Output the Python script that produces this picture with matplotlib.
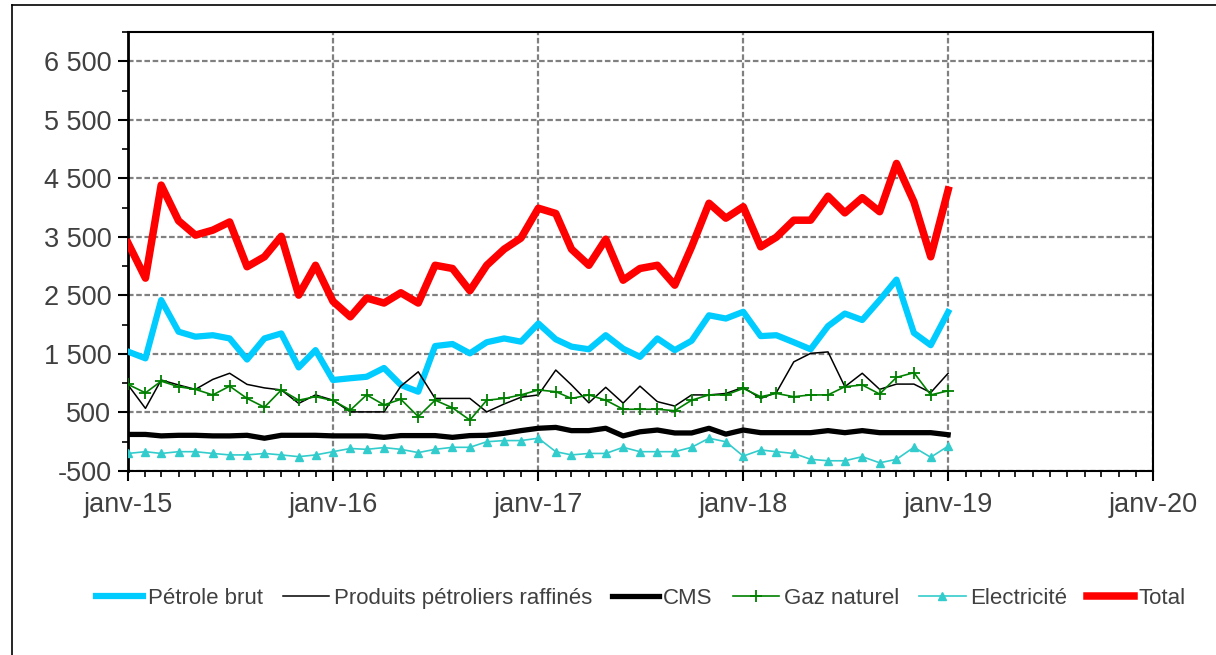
# Echanges mensuels par produit, 2015-2019
import matplotlib
matplotlib.use("Agg")
import matplotlib.pyplot as plt
import matplotlib.dates as mdates
from matplotlib.lines import Line2D
from matplotlib.ticker import FixedLocator, FuncFormatter
import pandas as pd

plt.rcParams['font.family'] = ['Liberation Sans', 'DejaVu Sans']

# Données mensuelles (janv-15 à janv-19)
mois = pd.date_range('2015-01-01', periods=49, freq='MS')

petrole = [1540, 1425, 2420, 1880, 1795, 1820, 1765, 1405, 1765, 1850, 1270, 1565,
           1055, 1085, 1110, 1260, 970, 855, 1635, 1670, 1510, 1700, 1765, 1710,
           2020, 1750, 1625, 1580, 1820, 1590, 1450, 1765, 1565, 1725, 2160, 2105,
           2220, 1805, 1820, 1700, 1580, 1975, 2190, 2080, 2420, 2770, 1860, 1650,
           2215]
produits = [970, 570, 1055, 970, 895, 1065, 1170, 980, 920, 885, 655, 800,
            710, 510, 510, 510, 950, 1195, 740, 740, 740, 510, 645, 760,
            800, 1225, 970, 665, 930, 660, 950, 685, 610, 800, 800, 825,
            930, 740, 840, 1365, 1510, 1535, 940, 1170, 895, 985, 985, 840,
            1170]
cms = [125, 125, 100, 110, 110, 100, 100, 110, 60, 110, 110, 110,
       100, 100, 100, 75, 105, 105, 105, 75, 105, 110, 145, 190,
       230, 245, 190, 190, 230, 100, 170, 200, 150, 150, 230, 130,
       200, 155, 155, 155, 155, 190, 155, 190, 155, 155, 155, 155,
       120]
gaz = [980, 835, 1035, 940, 895, 800, 950, 740, 590, 885, 710, 770,
       705, 540, 800, 630, 725, 430, 710, 580, 370, 710, 740, 800,
       885, 855, 740, 800, 710, 555, 555, 555, 530, 710, 800, 800,
       910, 770, 825, 770, 800, 800, 940, 970, 815, 1100, 1180, 800,
       870]
elec = [-200, -170, -200, -170, -170, -200, -225, -225, -200, -225, -255, -225,
        -170, -115, -130, -100, -130, -185, -130, -95, -95, 0, 20, 20,
        60, -170, -225, -200, -200, -95, -170, -170, -170, -95, 60, 0,
        -245, -140, -170, -200, -300, -325, -325, -255, -360, -300, -95, -265,
        -75]
total = [3395, 2795, 4385, 3775, 3530, 3615, 3755, 2990, 3160, 3510, 2505, 3015,
         2400, 2135, 2455, 2370, 2545, 2370, 3015, 2960, 2580, 3015, 3290, 3480,
         3990, 3900, 3290, 3015, 3460, 2760, 2960, 3015, 2675, 3330, 4075, 3820,
         4015, 3330, 3495, 3785, 3785, 4195, 3910, 4170, 3930, 4755, 4100, 3160,
         4300]

y_major = [-500, 500, 1500, 2500, 3500, 4500, 5500, 6500]
y_minor = [0, 1000, 2000, 3000, 4000, 5000, 6000, 7000]

fig = plt.figure(figsize=(12.16, 6.55), dpi=100)
ax = fig.add_axes([0.1053, 0.2809, 0.8429, 0.6702])

ax.plot(mois, petrole, color='#00CCFF', lw=4.5, label='Pétrole brut', zorder=3)
ax.plot(mois, produits, color='black', lw=1.1, label='Produits pétroliers raffinés', zorder=3)
ax.plot(mois, cms, color='black', lw=3.8, label='CMS', zorder=3)
ax.plot(mois, gaz, color='#008000', lw=1.2, marker='+', ms=8, mew=1.3,
        label='Gaz naturel', zorder=3)
ax.plot(mois, elec, color='#33CCCC', lw=1.2, marker='^', ms=6,
        label='Electricité', zorder=3)
ax.plot(mois, total, color='#FF0000', lw=5.4, label='Total', zorder=4)

# Axes
ax.set_xlim(pd.Timestamp('2015-01-01'), pd.Timestamp('2020-01-01'))
ax.set_ylim(-500, 7000)
ax.xaxis.set_major_locator(mdates.YearLocator())
ax.xaxis.set_minor_locator(mdates.MonthLocator())
ax.xaxis.set_major_formatter(FuncFormatter(
    lambda v, p: 'janv-' + mdates.num2date(v).strftime('%y')))
ax.yaxis.set_major_locator(FixedLocator(y_major))
ax.yaxis.set_minor_locator(FixedLocator(y_minor))
ax.yaxis.set_major_formatter(FuncFormatter(
    lambda v, p: '{:,.0f}'.format(v).replace(',', ' ')))

ax.grid(True, which='major', color='#808080', ls=(0, (2.5, 1.2)), lw=1.6)
ax.tick_params(axis='both', which='major', length=7, width=1.5,
               labelsize=19.5, labelcolor='#404040', pad=5)
ax.tick_params(axis='both', which='minor', length=4, width=1.2)
ax.tick_params(axis='x', which='major', pad=8)
for s in ax.spines.values():
    s.set_linewidth(1.5)
ax.spines['left'].set_linewidth(2)

# Légende
fig.legend(loc='center', bbox_to_anchor=(0.527, 0.087), ncol=6, frameon=False,
           fontsize=16, handlelength=2.1, handletextpad=0.2, columnspacing=0.9,
           labelcolor='#404040')

# Cadre extérieur
fig.add_artist(Line2D([0.0095, 0.0095], [0, 0.9924], color='black', lw=1.2))
fig.add_artist(Line2D([0.0095, 1], [0.9924, 0.9924], color='black', lw=1.2))

plt.savefig('out.png', dpi=100)
